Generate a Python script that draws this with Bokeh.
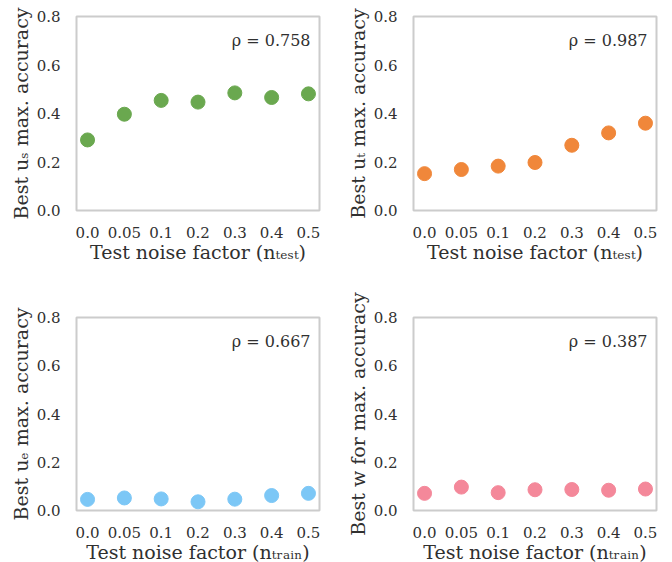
from bokeh.plotting import figure
from bokeh.layouts import gridplot
from bokeh.models import Range1d, FixedTicker, Label
from bokeh.embed import file_html
from bokeh.resources import INLINE

# ---- data ----
noise_labels = ["0.0", "0.05", "0.1", "0.2", "0.3", "0.4", "0.5"]
best_us = [0.291, 0.397, 0.454, 0.447, 0.485, 0.466, 0.481]
best_ut = [0.152, 0.169, 0.183, 0.198, 0.269, 0.320, 0.360]
best_ue = [0.046, 0.052, 0.048, 0.036, 0.047, 0.062, 0.071]
best_w = [0.071, 0.097, 0.074, 0.086, 0.087, 0.084, 0.089]
rhos = ["0.758", "0.987", "0.667", "0.387"]
y_ticks = [0.0, 0.2, 0.4, 0.6, 0.8]

FONT = "DejaVu Serif"
TXT = "#303030"

panels = [
    (best_us, "#6aa84f", "Best uₛ max. accuracy", "Test noise factor (nₜₑₛₜ)", rhos[0]),
    (best_ut, "#f0873a", "Best uₜ max. accuracy", "Test noise factor (nₜₑₛₜ)", rhos[1]),
    (best_ue, "#7cc7f6", "Best uₑ max. accuracy", "Test noise factor (nₜᵣₐᵢₙ)", rhos[2]),
    (best_w, "#f4889a", "Best w for max. accuracy", "Test noise factor (nₜᵣₐᵢₙ)", rhos[3]),
]

geom = [
    dict(min_border_left=76, min_border_right=22, min_border_top=16, min_border_bottom=70, fh=194),
    dict(min_border_left=72, min_border_right=8, min_border_top=16, min_border_bottom=70, fh=194),
    dict(min_border_left=76, min_border_right=22, min_border_top=37, min_border_bottom=44, fh=193),
    dict(min_border_left=72, min_border_right=8, min_border_top=37, min_border_bottom=44, fh=193),
]

figs = []
xs = list(range(len(noise_labels)))
for (vals, color, ylab, xlab, rho), g in zip(panels, geom):
    p = figure(frame_width=243, frame_height=g["fh"],
               x_range=Range1d(-0.3, len(noise_labels) - 0.7),
               y_range=Range1d(0.0, 0.8),
               output_backend="svg", toolbar_location=None,
               min_border_left=g["min_border_left"], min_border_right=g["min_border_right"],
               min_border_top=g["min_border_top"], min_border_bottom=g["min_border_bottom"])
    p.scatter(xs, vals, size=14, color=color, line_color=color)
    p.xgrid.visible = False
    p.ygrid.visible = False
    p.outline_line_color = "#cccccc"
    p.outline_line_width = 2
    p.background_fill_color = "white"
    p.border_fill_color = "white"
    p.xaxis.ticker = FixedTicker(ticks=xs)
    p.xaxis.major_label_overrides = {i: lab for i, lab in enumerate(noise_labels)}
    p.yaxis.ticker = FixedTicker(ticks=y_ticks)
    p.yaxis.major_label_overrides = {t: f"{t:.1f}" for t in y_ticks}
    for ax in (p.xaxis[0], p.yaxis[0]):
        ax.axis_line_color = None
        ax.major_tick_line_color = None
        ax.minor_tick_line_color = None
        ax.major_label_text_font = FONT
        ax.major_label_text_font_size = "15px"
        ax.major_label_text_color = TXT
        ax.axis_label_text_font = FONT
        ax.axis_label_text_font_size = "19px"
        ax.axis_label_text_font_style = "normal"
        ax.axis_label_text_color = TXT
    p.xaxis.major_label_standoff = 10
    p.yaxis.major_label_standoff = 10
    p.xaxis.axis_label_standoff = 0
    p.yaxis.axis_label_standoff = 2
    p.xaxis.axis_label = xlab
    p.yaxis.axis_label = ylab
    p.add_layout(Label(x=len(noise_labels) - 0.7, y=0.8, x_offset=-9, y_offset=-24,
                       text="ρ = " + rho, text_align="right", text_baseline="middle",
                       text_font=FONT, text_font_size="16px", text_color=TXT))
    figs.append(p)

grid = gridplot([[figs[0], figs[1]], [figs[2], figs[3]]], toolbar_location=None)

open("out.html", "w").write(file_html(grid, INLINE))
